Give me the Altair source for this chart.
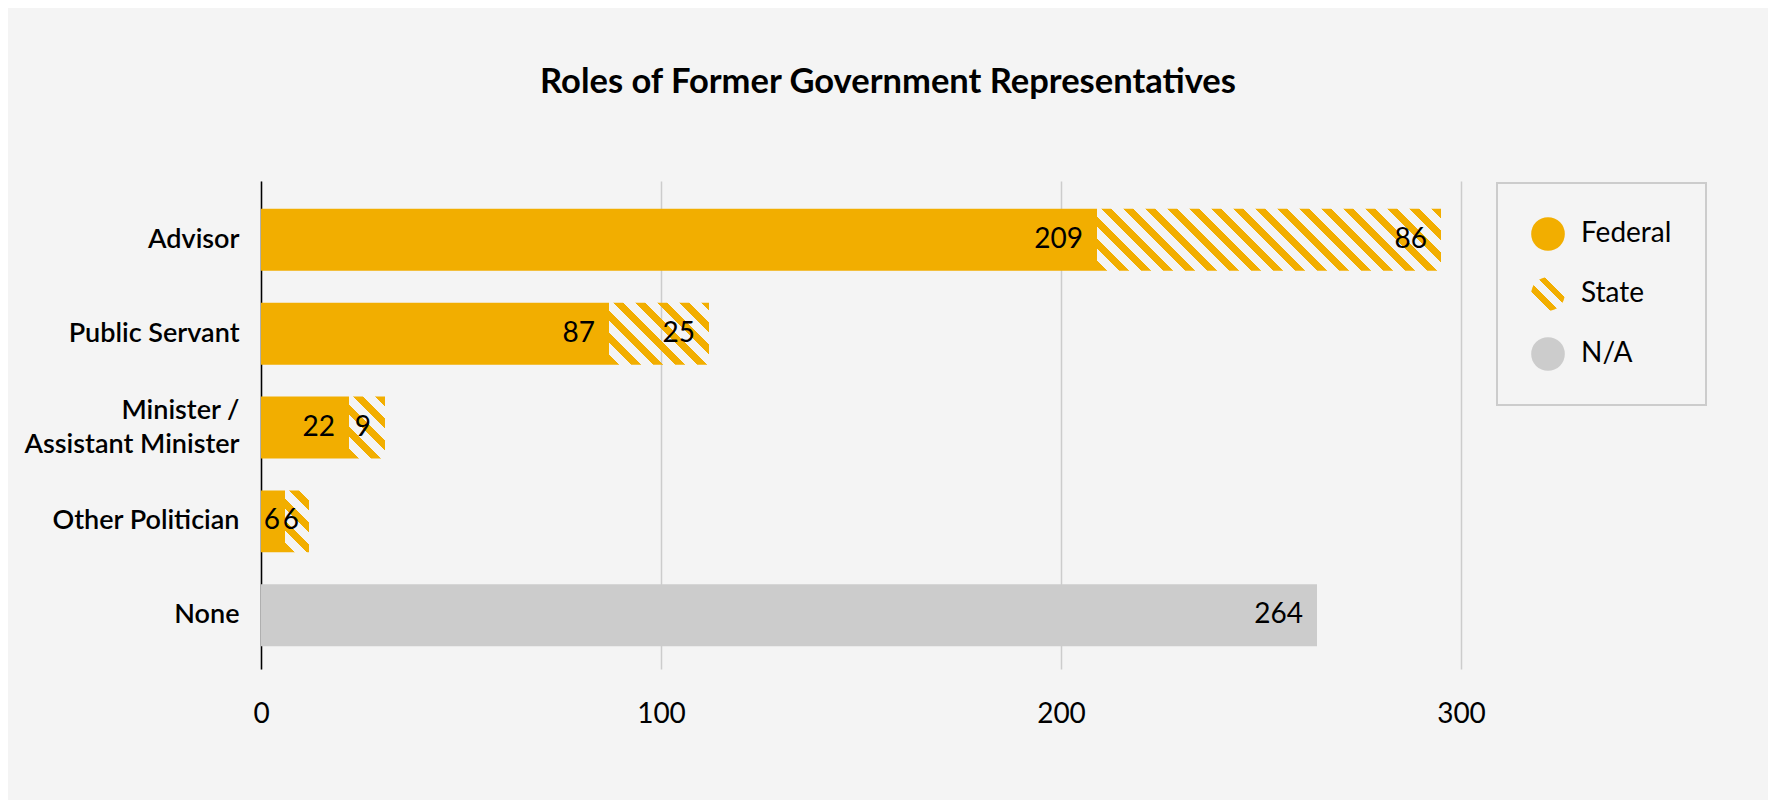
import altair as alt
import pandas as pd
import json

# ---- data ----
categories = ["Advisor", "Public Servant", "Minister / Assistant Minister", "Other Politician", "None"]
federal = [209, 87, 22, 6, 0]
state = [86, 25, 9, 6, 0]
na_vals = [0, 0, 0, 0, 264]
segments = ["Federal", "State", "N/A"]
x_ticks = [0, 100, 200, 300]

ORANGE = "#F2AE00"
GREY = "#CCCCCC"
CLEAR = "rgba(244,244,244,0)"
BG = "#F4F4F4"
FONT = "Lato"

PLOT_W, PLOT_H = 1200, 488
X_MAX = 300
PAD_INNER, PAD_OUTER = 0.34, 0.27

rows = []
for c, f, s, n in zip(categories, federal, state, na_vals):
    start = 0
    for seg, v in zip(segments, [f, s, n]):
        if v > 0:
            rows.append({"category": c, "segment": seg, "value": v, "start": start, "end": start + v})
            start += v
df = pd.DataFrame(rows)

step = PLOT_H / (len(categories) - PAD_INNER + 2 * PAD_OUTER)
BAND = step * (1 - PAD_INNER)
PX_PER_UNIT = PLOT_W / X_MAX


def hatch(w, h, period=22.0, frac=0.45):
    """Diagonal stripe fill built from a hard-stop linear gradient."""
    s = (w + h) / (w * w + h * h)
    dt = period / (w + h)
    stops = []
    t = 0.0
    while t < 1.0:
        b = min(t + frac * dt, 1.0)
        c = min(t + dt, 1.0)
        stops += [(t, ORANGE), (b, ORANGE), (b, CLEAR), (c, CLEAR)]
        t += dt
    return {
        "gradient": "linear",
        "x1": 0, "y1": 1,
        "x2": round(s * w, 5), "y2": round(1 - s * h, 5),
        "stops": [{"offset": round(o, 5), "color": col} for o, col in stops],
    }


# legend symbol for "State": same stripes, returned by an expression in the range
legend_hatch_expr = json.dumps(hatch(38, 38, period=22, frac=0.42))

x_scale = alt.Scale(domain=[0, X_MAX], nice=False)
x_axis = alt.Axis(
    title=None, values=x_ticks, grid=True, ticks=False, domain=False,
    labelFontSize=28, labelFont=FONT, labelColor="#000", labelPadding=31,
    gridColor="#CCCCCC", gridWidth=1.5, labelFlush=False,
)
x_enc = alt.X("start:Q", scale=x_scale, axis=x_axis)
y_enc = alt.Y(
    "category:N",
    sort=categories,
    scale=alt.Scale(paddingInner=PAD_INNER, paddingOuter=PAD_OUTER, align=0.55),
    axis=alt.Axis(
        title=None, ticks=False, grid=False, domain=True, domainColor="#000",
        domainWidth=1.5, labelFontSize=27, labelFontWeight=600, labelFont=FONT,
        labelColor="#000", labelPadding=22, labelLineHeight=34, labelLimit=400,
        labelExpr="split(replace(datum.label, ' / ', ' /|'), '|')",
        labelOffset={"condition": {"test": "indexof(datum.label, ' / ') > 0", "value": -17}, "value": 0},
    ),
)

legend = alt.Legend(
    title=None,
    orient="none",
    legendX=PLOT_W + 36,
    legendY=2,
    padding=34,
    strokeColor="#CCCCCC",
    symbolType="circle",
    symbolSize=1134,
    symbolStrokeWidth=0,
    symbolOpacity=1,
    labelFontSize=28,
    labelFont=FONT,
    labelColor="#000",
    labelOffset=16,
    rowPadding=26,
)

base = alt.Chart(df)

solid = base.transform_filter("datum.segment !== 'State'").mark_bar().encode(
    x=x_enc,
    x2="end:Q",
    y=y_enc,
    color=alt.Color(
        "segment:N",
        scale=alt.Scale(domain=segments, range=[ORANGE, alt.ExprRef(expr=legend_hatch_expr), GREY]),
        legend=legend,
    ),
)

layers = [solid]
for c, s in zip(categories, state):
    if s > 0:
        layers.append(
            base.transform_filter(
                alt.FieldEqualPredicate(field="category", equal=c)
            ).transform_filter(
                alt.FieldEqualPredicate(field="segment", equal="State")
            ).mark_bar(fill=hatch(s * PX_PER_UNIT, BAND)).encode(
                x=x_enc, x2="end:Q", y=y_enc
            )
        )

labels = base.mark_text(
    align="right", baseline="middle", fontSize=28, font=FONT, color="#000",
    dx=alt.ExprRef(expr="datum.end < 10 ? -5 : (datum.end < 20 ? -10 : -14)"),
).encode(
    x=alt.X("end:Q", scale=x_scale, axis=x_axis),
    y=y_enc,
    text="value:Q",
)
layers.append(labels)

chart = alt.layer(*layers).properties(
    width=PLOT_W,
    height=PLOT_H,
    background=BG,
    padding={"left": 253, "top": 173, "right": 307, "bottom": 131},
    autosize=alt.AutoSizeParams(type="none"),
    title=alt.TitleParams(
        "Roles of Former Government Representatives",
        font=FONT, fontSize=34.5, fontWeight="bold", color="#000",
        anchor="middle", baseline="alphabetic", offset=54, dx=27,
    ),
).configure_view(stroke=None).configure_legend(strokeWidth=2)

chart.save("out.html", embed_options={"renderer": "svg", "actions": False})
